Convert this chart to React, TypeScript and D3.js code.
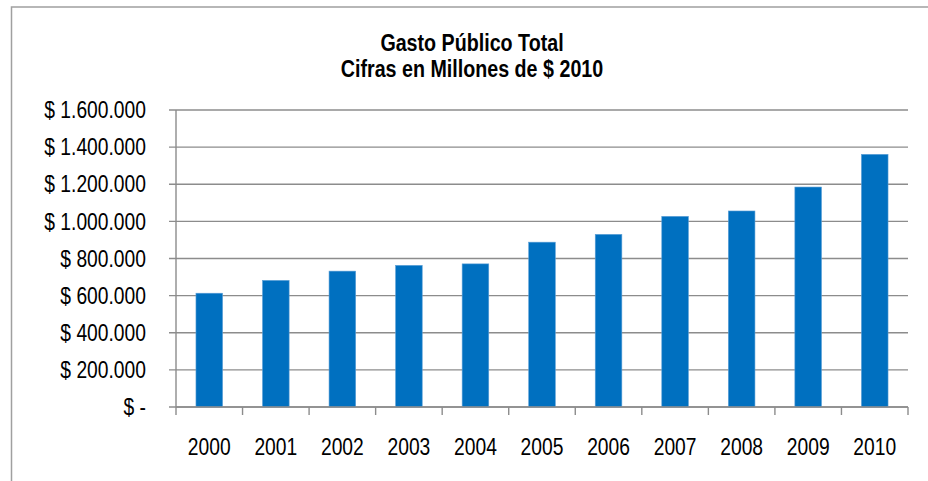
import React, { FC } from 'react';
import * as d3 from 'd3';

/* Data */
const years: string[] = ['2000', '2001', '2002', '2003', '2004', '2005', '2006', '2007', '2008', '2009', '2010'];
const gasto: number[] = [613000, 682000, 732000, 763000, 771000, 888000, 930000, 1027000, 1056000, 1185000, 1361000];
const yTicks: number[] = [0, 200000, 400000, 600000, 800000, 1000000, 1200000, 1400000, 1600000];
const yTickLabels: string[] = ['$ -', '$ 200.000', '$ 400.000', '$ 600.000', '$ 800.000', '$ 1.000.000', '$ 1.200.000', '$ 1.400.000', '$ 1.600.000'];
const titleLines: string[] = ['Gasto Público Total', 'Cifras en Millones de $ 2010'];

type Margin = {
  left: number;
  top: number;
  right: number;
  bottom: number;
};

const width: number = 928;
const height: number = 481;
const margin: Margin = { left: 176, top: 110, right: 20, bottom: 74 };

const FONT = '"Liberation Sans", Arial, sans-serif';
const GRID = '#8c8c8c';
const SQUEEZE = 0.82; // the original uses a narrow face

interface NarrowProps {
  x: number;
  y: number;
  anchor: 'start' | 'middle' | 'end';
  size: number;
  bold?: boolean;
  dy?: string;
  children: React.ReactNode;
}

/* text squeezed horizontally to look like Arial Narrow */
const Narrow: FC<NarrowProps> = ({ x, y, anchor, size, bold, dy, children }: NarrowProps) => (
  <g transform={`translate(${x},${y}) scale(${SQUEEZE},1)`}>
    <text textAnchor={anchor} dy={dy} fontSize={size} fontWeight={bold ? 'bold' : 'normal'} fill="#000">
      {children}
    </text>
  </g>
);

const App: FC = () => {
  const x = d3
    .scaleBand<string>()
    .domain(years)
    .range([margin.left, width - margin.right])
    .padding(0);
  const y = d3
    .scaleLinear()
    .domain([0, 1600000])
    .range([height - margin.bottom, margin.top]);

  const barW = x.bandwidth() * 0.4;
  const y0 = y(0);

  return (
    <svg
      width={width}
      height={height}
      style={{ position: 'absolute', left: 0, top: 0, background: '#fff' }}
      fontFamily={FONT}
    >
      {/* chart area border */}
      <rect x={11.5} y={7} width={width} height={height} fill="#fff" stroke="#a0a0a0" strokeWidth={1.5} />

      {/* title */}
      {titleLines.map((t, i) => (
        <Narrow key={t} x={472} y={51 + i * 26} anchor="middle" size={24} bold>
          {t}
        </Narrow>
      ))}

      {/* gridlines and y ticks */}
      <g id="y-axis">
        {yTicks.map((v, i) => (
          <g key={v}>
            <line x1={margin.left - 7} x2={width - margin.right} y1={y(v)} y2={y(v)} stroke={GRID} strokeWidth={1.4} />
            <Narrow x={146} y={y(v)} dy="0.35em" anchor="end" size={23.5}>
              {yTickLabels[i]}
            </Narrow>
          </g>
        ))}
        <line x1={margin.left} x2={margin.left} y1={y(1600000)} y2={y0} stroke={GRID} strokeWidth={1.4} />
      </g>

      {/* bars */}
      <g id="bars">
        {years.map((yr, i) => (
          <rect
            key={yr}
            x={(x(yr) as number) + (x.bandwidth() - barW) / 2}
            y={y(gasto[i])}
            width={barW}
            height={y0 - y(gasto[i])}
            fill="#0070c0"
            stroke="#5c9fd6"
            strokeWidth={0.6}
          />
        ))}
      </g>

      {/* x axis */}
      <g id="x-axis">
        <line x1={margin.left} x2={width - margin.right} y1={y0} y2={y0} stroke={GRID} strokeWidth={1.4} />
        {years.map((yr) => (
          <line key={'t' + yr} x1={x(yr) as number} x2={x(yr) as number} y1={y0} y2={y0 + 8} stroke={GRID} strokeWidth={1.4} />
        ))}
        <line x1={width - margin.right} x2={width - margin.right} y1={y0} y2={y0 + 8} stroke={GRID} strokeWidth={1.4} />
        {years.map((yr) => (
          <Narrow key={'l' + yr} x={(x(yr) as number) + x.bandwidth() / 2} y={455} anchor="middle" size={23.5}>
            {yr}
          </Narrow>
        ))}
      </g>
    </svg>
  );
};

export default App;
